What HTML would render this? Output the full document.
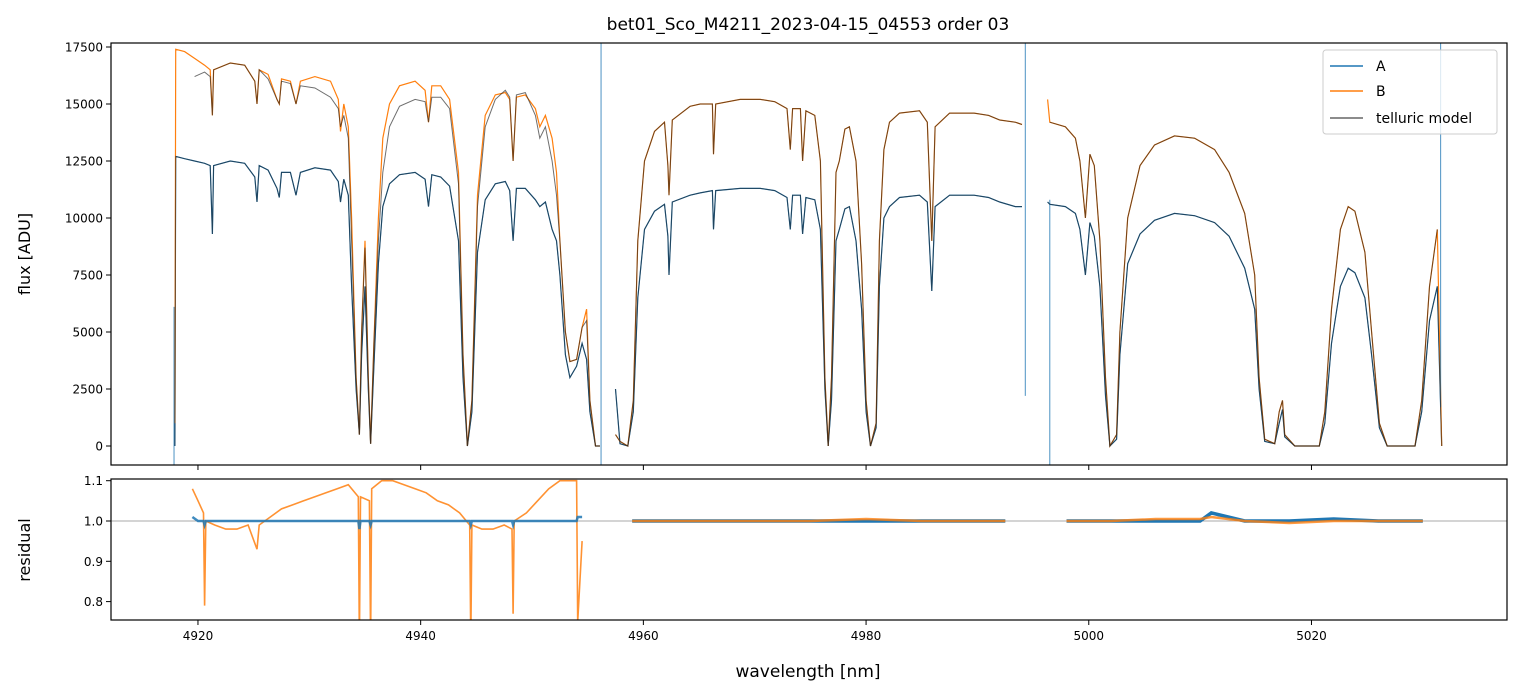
<!DOCTYPE html>
<html><head><meta charset="utf-8">
<style>
body{margin:0;background:#fff;}
svg{display:block;font-family:"DejaVu Sans","Liberation Sans",sans-serif;}
</style></head>
<body>
<svg id="chart" width="1520" height="696" viewBox="0 0 1520 696" xmlns="http://www.w3.org/2000/svg">
<rect x="0" y="0" width="1520" height="696" fill="#fff"/>
<text x="808" y="30" font-size="17" text-anchor="middle">bet01_Sco_M4211_2023-04-15_04553  order 03</text>
<text transform="translate(30,254) rotate(-90)" font-size="16" text-anchor="middle">flux [ADU]</text>
<text transform="translate(30,550) rotate(-90)" font-size="16" text-anchor="middle">residual</text>
<text x="808" y="677" font-size="17" text-anchor="middle">wavelength [nm]</text>
<defs>
<clipPath id="clipMain"><rect x="111" y="43" width="1396" height="422"/></clipPath>
<clipPath id="clipRes"><rect x="111" y="479" width="1396" height="141"/></clipPath>
</defs>
<g id="main" clip-path="url(#clipMain)"></g>
<g id="res" clip-path="url(#clipRes)"></g>
<g id="axes"></g>
<g>
<rect x="1323" y="50" width="174" height="84" rx="3" fill="#fff" fill-opacity="0.8" stroke="#ccc"/>
<line x1="1330" y1="66" x2="1363" y2="66" stroke="#1f77b4" stroke-width="1.5"/>
<text x="1376" y="71" font-size="14">A</text>
<line x1="1330" y1="91" x2="1363" y2="91" stroke="#ff7f0e" stroke-width="1.5"/>
<text x="1376" y="96" font-size="14">B</text>
<line x1="1330" y1="118" x2="1363" y2="118" stroke="#666" stroke-width="1.5"/>
<text x="1376" y="123" font-size="14">telluric model</text>
</g>
</svg>
<script>
const wl=[4917.93,4918.0,4918.8,4919.7,4920.6,4921.1,4921.3,4921.4,4922.9,4924.2,4925.1,4925.3,4925.5,4926.3,4927.1,4927.3,4927.5,4928.3,4928.8,4929.2,4930.5,4931.9,4932.6,4932.8,4933.1,4933.5,4933.8,4934.2,4934.5,4934.7,4935.0,4935.3,4935.5,4935.8,4936.2,4936.6,4937.2,4938.1,4939.5,4940.4,4940.7,4941.0,4941.8,4942.6,4943.4,4943.8,4944.2,4944.6,4945.1,4945.8,4946.7,4947.6,4948.0,4948.3,4948.6,4949.4,4950.3,4950.7,4951.2,4951.8,4952.2,4952.5,4953.0,4953.4,4954.0,4954.5,4954.9,4955.2,4955.7,4956.1,
null,
4957.5,4957.9,4958.6,4959.1,4959.5,4960.1,4961.0,4961.9,4962.2,4962.3,4962.6,4964.2,4965.1,4966.2,4966.3,4966.5,4968.7,4970.5,4971.8,4972.9,4973.2,4973.4,4974.1,4974.3,4974.6,4975.4,4975.9,4976.3,4976.6,4976.9,4977.3,4977.6,4978.1,4978.5,4979.1,4979.6,4980.0,4980.4,4980.9,4981.2,4981.6,4982.1,4983.0,4984.8,4985.5,4985.9,4986.2,4987.5,4989.7,4991.0,4992.0,4993.4,4994.0,
null,
4996.3,4996.5,4997.9,4998.8,4999.2,4999.7,5000.1,5000.5,5001.0,5001.5,5001.9,5002.5,5002.8,5003.5,5004.6,5005.9,5007.7,5009.5,5011.3,5012.6,5014.0,5014.9,5015.3,5015.8,5016.7,5017.1,5017.4,5017.6,5018.5,5020.7,5021.2,5021.8,5022.6,5023.3,5023.9,5024.8,5025.4,5026.1,5026.8,5029.3,5029.9,5030.6,5031.3,5031.7];
const fluxB=[1000,17400,17300,17000,16700,16500,14500,16500,16800,16700,16000,15000,16500,16300,15200,15000,16100,16000,15000,16000,16200,16000,15200,13800,15000,14000,10000,3000,500,5000,9000,3000,100,4500,10000,13500,15000,15800,16000,15600,14200,15800,15800,15200,12000,4000,0,2000,11000,14500,15400,15500,15200,12500,15300,15400,14800,14000,14500,13500,12000,9000,5000,3700,3800,5200,6000,2000,0,0,
null,
500,200,0,2000,9000,12500,13800,14200,12300,11000,14300,14900,15000,15000,12800,15000,15200,15200,15100,14800,13000,14800,14800,12500,14700,14500,12500,3000,0,3000,12000,12500,13900,14000,12500,8000,2000,0,1000,9000,13000,14200,14600,14700,14200,9000,14000,14600,14600,14500,14300,14200,14100,
null,
15200,14200,14000,13500,12500,10000,12800,12300,9000,3000,0,500,5000,10000,12300,13200,13600,13500,13000,12000,10200,7500,3000,300,100,1500,2000,500,0,0,1500,6000,9500,10500,10300,8500,5000,1000,0,0,2000,7000,9500,0];
const fluxA=[0,12700,12600,12500,12400,12300,9300,12300,12500,12400,11800,10700,12300,12100,11300,10900,12000,12000,11000,12000,12200,12100,11600,10700,11700,11000,7000,2500,500,4000,7000,2500,100,3500,8000,10500,11500,11900,12000,11700,10500,11900,11800,11400,9000,3000,0,1500,8500,10800,11500,11600,11200,9000,11300,11300,10800,10500,10700,9500,9000,7500,4000,3000,3500,4500,3800,1500,0,0,
null,
2500,100,0,1500,6500,9500,10300,10600,9200,7500,10700,11000,11100,11200,9500,11200,11300,11300,11200,10900,9500,11000,11000,9300,10900,10800,9500,2500,0,2000,9000,9500,10400,10500,9000,6000,1500,0,800,7000,10000,10500,10900,11000,10700,6800,10500,11000,11000,10900,10700,10500,10500,
null,
10700,10600,10500,10200,9500,7500,9800,9200,7000,2200,0,300,4000,8000,9300,9900,10200,10100,9800,9200,7800,6000,2500,200,100,1000,1600,400,0,0,1000,4500,7000,7800,7600,6500,4000,800,0,0,1500,5500,7000,0];
const modelB=[null,null,null,16200,16400,16200,14500,16500,16800,16700,16000,15000,16500,16100,15200,15000,16000,15900,15000,15800,15700,15300,14800,14000,14500,13500,9000,3000,500,5000,8700,3000,100,4500,9000,12000,14000,14900,15200,15100,14200,15300,15300,14800,11500,4000,0,2000,10500,14000,15200,15600,15300,12500,15400,15500,14500,13500,14000,12500,11000,9000,5000,3700,3800,5200,5500,2000,0,0,
null,
500,200,0,2000,9000,12500,13800,14200,12300,11000,14300,14900,15000,15000,12800,15000,15200,15200,15100,14800,13000,14800,14800,12500,14700,14500,12500,3000,0,3000,12000,12500,13900,14000,12500,8000,2000,0,1000,9000,13000,14200,14600,14700,14200,9000,14000,14600,14600,14500,14300,14200,14100,
null,
null,14200,14000,13500,12500,10000,12800,12300,9000,3000,0,500,5000,10000,12300,13200,13600,13500,13000,12000,10200,7500,3000,300,100,1500,2000,500,0,0,1500,6000,9500,10500,10300,8500,5000,1000,0,0,2000,7000,9500,null];
// vertical spikes of spectrum A (bad pixels)
const spikeWl=[4917.85,4956.2,4994.3,4996.5,5031.6];
const spikeLo=[-900,-900,2200,-900,1700];
const spikeHi=[6100,18000,18000,10800,18000];
// residuals
const resWl=[4919.5,4920.0,4920.5,4920.6,4920.7,4921.5,4922.5,4923.5,4924.5,4925.3,4925.5,4926.5,4927.5,4928.5,4929.5,4930.5,4931.5,4932.5,4933.5,4934.4,4934.5,4934.6,4935.4,4935.5,4935.6,4936.5,4937.5,4938.5,4939.5,4940.5,4941.5,4942.5,4943.5,4944.4,4944.5,4944.6,4945.5,4946.5,4947.5,4948.2,4948.3,4948.4,4949.5,4950.5,4951.5,4952.5,4953.5,4954.0,4954.1,4954.5];
const resB=[1.08,1.05,1.02,0.79,1.0,0.99,0.98,0.98,0.99,0.93,0.99,1.01,1.03,1.04,1.05,1.06,1.07,1.08,1.09,1.06,0.70,1.06,1.05,0.70,1.08,1.10,1.10,1.09,1.08,1.07,1.05,1.04,1.02,0.99,0.70,0.99,0.98,0.98,0.99,0.98,0.77,1.0,1.02,1.05,1.08,1.10,1.10,1.1,0.75,0.95];
const resA=[1.01,1.0,1.0,0.99,1.0,1.0,1.0,1.0,1.0,1.0,1.0,1.0,1.0,1.0,1.0,1.0,1.0,1.0,1.0,1.0,0.98,1.0,1.0,0.99,1.0,1.0,1.0,1.0,1.0,1.0,1.0,1.0,1.0,1.0,0.99,1.0,1.0,1.0,1.0,1.0,0.99,1.0,1.0,1.0,1.0,1.0,1.0,1.0,1.01,1.01];
const res2Wl=[4959.0,4965.0,4970.0,4975.0,4980.0,4985.0,4990.0,4992.5,null,4998.0,5002.0,5006.0,5010.0,5011.0,5014.0,5018.0,5022.0,5026.0,5030.0];
const res2B=[1.0,1.0,1.0,1.0,1.005,1.0,1.0,1.0,null,1.0,1.0,1.005,1.005,1.01,1.0,0.995,1.0,1.0,1.0];
const res2A=[1.0,1.0,1.0,1.0,1.0,1.0,1.0,1.0,null,1.0,1.0,1.0,1.0,1.02,1.0,1.0,1.005,1.0,1.0];
const xTicks=[4920,4940,4960,4980,5000,5020];
const yTicks=[0,2500,5000,7500,10000,12500,15000,17500];
const rTicks=[0.8,0.9,1.0,1.1];

const NS="http://www.w3.org/2000/svg";
const X0=111,X1=1507,WMIN=4912.19,WMAX=5037.56;
const xs=w=>X0+(w-WMIN)/(WMAX-WMIN)*(X1-X0);
const ys=f=>446-f*(446-47)/17500;
const yr=r=>521-(r-1.0)*403;
function mk(tag,attrs,parent){const e=document.createElementNS(NS,tag);for(const k in attrs)e.setAttribute(k,attrs[k]);parent.appendChild(e);return e;}
function pathFrom(xarr,yarr,ysc){let d="",pen=false;for(let i=0;i<xarr.length;i++){if(xarr[i]===null||yarr[i]===null){pen=false;continue;}d+=(pen?"L":"M")+xs(xarr[i]).toFixed(1)+" "+ysc(yarr[i]).toFixed(1);pen=true;}return d;}
const main=document.getElementById('main'),res=document.getElementById('res'),axes=document.getElementById('axes');
let p;
p=mk('path',{d:pathFrom(wl,fluxA,ys),fill:'none',stroke:'#1f77b4','stroke-width':1.2},main);


p=mk('path',{d:pathFrom(wl,fluxB,ys),fill:'none',stroke:'#ff7f0e','stroke-width':1.2},main);


for(let i=0;i<spikeWl.length;i++){
 const l=mk('line',{x1:xs(spikeWl[i]),x2:xs(spikeWl[i]),y1:ys(spikeLo[i]),y2:ys(spikeHi[i]),stroke:'#1f77b4','stroke-width':1,'stroke-opacity':0.8},main);
 
 
}
p=mk('path',{d:pathFrom(wl,modelB,ys),fill:'none',stroke:'#222','stroke-width':1,'stroke-opacity':0.65},main);


p=mk('path',{d:pathFrom(wl,fluxA,ys),fill:'none',stroke:'#222','stroke-width':1,'stroke-opacity':0.6},main);


// residual
p=mk('line',{x1:X0,x2:X1,y1:yr(1),y2:yr(1),stroke:'#555','stroke-width':0.6},res);


p=mk('path',{d:pathFrom(resWl,resB,yr),fill:'none',stroke:'#ff7f0e','stroke-width':1.6,'stroke-opacity':0.85},res);


p=mk('path',{d:pathFrom(resWl,resA,yr),fill:'none',stroke:'#1f77b4','stroke-width':2.5,'stroke-opacity':0.85},res);


p=mk('path',{d:pathFrom(res2Wl,res2A,yr),fill:'none',stroke:'#1f77b4','stroke-width':3.5},res);


p=mk('path',{d:pathFrom(res2Wl,res2B,yr),fill:'none',stroke:'#ff7f0e','stroke-width':2.5,'stroke-opacity':0.8},res);


// frames
p=mk('rect',{x:X0,y:43,width:X1-X0,height:422,fill:'none',stroke:'#000','stroke-width':1.2},axes);


p=mk('rect',{x:X0,y:479,width:X1-X0,height:141,fill:'none',stroke:'#000','stroke-width':1.2},axes);


for(const t of xTicks){
 const x=xs(t);
 mk('line',{x1:x,x2:x,y1:465,y2:470,stroke:'#000'},axes);
 mk('line',{x1:x,x2:x,y1:620,y2:625,stroke:'#000'},axes);
 const tx=mk('text',{x:x,y:640,'font-size':12,'text-anchor':'middle'},axes);
 tx.textContent=t;
 
 
}
for(const t of yTicks){
 const y=ys(t);
 mk('line',{x1:X0-5,x2:X0,y1:y,y2:y,stroke:'#000'},axes);
 const tx=mk('text',{x:X0-8,y:y+4.5,'font-size':12,'text-anchor':'end'},axes);
 tx.textContent=t;
 
 
}
for(const t of rTicks){
 const y=yr(t);
 mk('line',{x1:X0-5,x2:X0,y1:y,y2:y,stroke:'#000'},axes);
 const tx=mk('text',{x:X0-8,y:y+4.5,'font-size':12,'text-anchor':'end'},axes);
 tx.textContent=t.toFixed(1);
 
 
}
</script>
</body></html>
